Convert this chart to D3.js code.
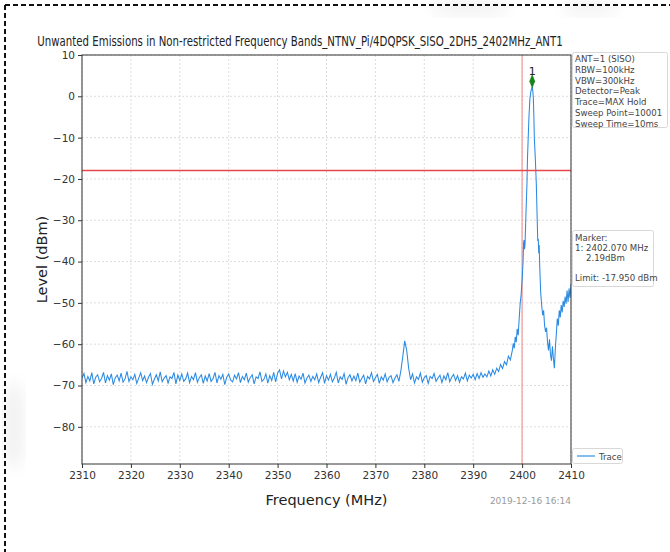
<!DOCTYPE html>
<html><head><meta charset="utf-8">
<script src="https://cdn.jsdelivr.net/npm/d3@7"></script>
<style>body{margin:0;background:#fff;}svg{display:block;font-family:"DejaVu Sans",sans-serif;}</style>
</head><body><svg id="c" width="670" height="552"></svg>
<script>
// ---- data ----
const titleText = "Unwanted Emissions in Non-restricted Frequency Bands_NTNV_Pi/4DQPSK_SISO_2DH5_2402MHz_ANT1";
const xTicks = [2310,2320,2330,2340,2350,2360,2370,2380,2390,2400,2410];
const yTicks = [10,0,-10,-20,-30,-40,-50,-60,-70,-80];
const xDomain = [2310, 2410];
const yDomain = [-89, 10];
const noiseStart = 2310, noiseStep = 0.4; // sweep segment 2310–2398 MHz
const noiseLevels = [
-68.2,-67.1,-69.3,-67.8,-68.9,-66.9,-69.6,-68.0,-67.4,-69.1,-68.3,-66.8,-69.4,-67.6,-68.7,-67.2,-69.8,-68.1,-67.5,-68.9,
-67.0,-69.2,-68.4,-66.6,-69.0,-67.9,-68.6,-67.3,-69.5,-68.2,-66.9,-68.8,-67.7,-69.3,-68.0,-67.1,-69.7,-68.5,-67.4,-68.9,
-66.7,-69.1,-68.2,-67.6,-69.4,-67.9,-68.3,-66.8,-69.6,-67.5,-68.8,-67.2,-69.0,-68.4,-67.0,-69.3,-67.8,-68.6,-66.9,-69.2,
-68.1,-67.4,-69.5,-67.7,-68.9,-67.1,-69.0,-68.3,-66.8,-69.4,-67.6,-68.5,-67.3,-69.8,-68.0,-67.2,-68.7,-69.1,-67.5,-68.4,
-66.9,-69.3,-67.8,-68.6,-67.0,-69.2,-68.1,-67.4,-69.6,-67.9,-68.3,-66.7,-69.0,-68.5,-67.2,-69.4,-67.6,-68.8,-66.8,-69.1,
-67.0,-66.2,-68.4,-66.5,-67.9,-66.8,-68.6,-67.3,-68.9,-67.1,-69.2,-67.7,-68.5,-67.0,-69.4,-68.2,-67.5,-69.0,-67.8,-68.6,
-67.2,-69.3,-68.0,-66.9,-69.5,-67.6,-68.7,-67.3,-69.1,-68.2,-66.8,-69.4,-67.9,-68.5,-67.1,-69.7,-68.1,-67.4,-68.9,-67.7,
-68.8,-67.0,-69.2,-68.3,-67.5,-69.6,-67.8,-68.4,-66.9,-69.0,-68.1,-67.3,-69.5,-67.9,-68.7,-67.2,-69.1,-68.0,-67.6,-69.3,
-68.2,-67.4,-69.0,-66.5,-63.0,-59.2,-61.5,-65.8,-68.6,-67.2,-69.4,-67.9,-68.5,-67.0,-69.2,-68.1,-67.6,-69.5,-67.8,-68.3,
-67.1,-69.0,-68.2,-67.5,-69.3,-67.7,-68.6,-66.9,-69.1,-68.0,-67.3,-68.8,-67.6,-69.2,-67.9,-68.4,-67.0,-68.9,-67.5,-68.2,
-67.3,-68.6,-67.1,-68.3,-66.9,-68.0,-67.2,-67.9,-66.5,-67.7,-66.2,-67.3,-65.8,-66.6,-64.9,-65.9,-64.2,-65.0,-62.9,-63.8
];
const bandFreqs = [2398.0,2398.2,2398.4,2398.6,2398.8,2399.0,2399.2,2399.4,2399.6,2399.8,2400.0,2400.2,2400.3,2400.4,2400.5,2400.6,2400.8,2401.0,2401.1,2401.25,2401.4,2401.6,2401.8,2402.0,2402.07,2402.2,2402.3,2402.4,2402.5,2402.7,2402.9,2403.05,2403.2,2403.3,2403.4,2403.5,2403.6,2403.8,2404.0,2404.2,2404.4,2404.6,2404.8,2405.0,2405.2,2405.4,2405.6,2405.8,2406.0,2406.2,2406.4,2406.6,2406.8,2407.0,2407.2,2407.4,2407.6,2407.8,2408.0,2408.2,2408.4,2408.6,2408.8,2409.0,2409.2,2409.4,2409.6,2409.8,2410.0];
const bandLevels = [-61.5,-59.8,-61.0,-58.2,-59.5,-56.3,-57.8,-53.9,-50.2,-48.0,-44.5,-40.0,-35.5,-34.8,-37.0,-35.8,-28.0,-21.0,-15.0,-10.0,-5.0,-0.5,1.2,2.1,2.19,1.2,-0.5,-4.5,-10.0,-15.0,-21.0,-28.0,-35.0,-34.5,-38.0,-36.0,-41.0,-47.5,-50.5,-53.0,-51.8,-55.5,-57.0,-56.0,-59.5,-61.5,-58.8,-62.5,-64.0,-60.5,-63.5,-65.8,-61.0,-57.5,-53.8,-55.5,-51.8,-53.5,-50.5,-52.3,-49.5,-51.0,-48.5,-50.2,-47.0,-49.8,-46.5,-48.8,-45.5,-47.5];
const limitLevel = -17.95;
const refFreq = 2400;
const marker = {freq: 2402.07, level: 2.19, label: "1"};
const infoLines = ["ANT=1 (SISO)","RBW=100kHz","VBW=300kHz","Detector=Peak","Trace=MAX Hold","Sweep Point=10001","Sweep Time=10ms"];
const markerLines = ["Marker:","1: 2402.070 MHz","    2.19dBm","","Limit: -17.950 dBm"];
const legendLabel = "Trace";
const dateText = "2019-12-16 16:14";

// ---- build ----
const trace = noiseLevels.map((v,i)=>({f: noiseStart + i*noiseStep, v}))
  .concat(bandFreqs.map((f,i)=>({f, v: bandLevels[i]})));

const svg = d3.select("#c");
const L=82, R=571, T=55, B=464;
const x = d3.scaleLinear().domain(xDomain).range([L,R]);
const y = d3.scaleLinear().domain(yDomain).range([B,T]);

// faint background smudges (scan artefacts)
const defs = svg.append("defs");
defs.append("filter").attr("id","blur").append("feGaussianBlur").attr("stdDeviation",7);
svg.append("ellipse").attr("cx",470).attr("cy",8).attr("rx",40).attr("ry",8).attr("fill","#f3f3f3").attr("filter","url(#blur)");
svg.append("ellipse").attr("cx",590).attr("cy",8).attr("rx",30).attr("ry",8).attr("fill","#f4f4f4").attr("filter","url(#blur)");
svg.append("ellipse").attr("cx",14).attr("cy",425).attr("rx",10).attr("ry",45).attr("fill","#f1f1f1").attr("filter","url(#blur)");

// page dashed border
svg.append("line").attr("x1",5).attr("x2",670).attr("y1",5).attr("y2",5)
  .attr("stroke","#111").attr("stroke-width",2).attr("stroke-dasharray","5,3");
svg.append("line").attr("x1",5).attr("x2",5).attr("y1",5).attr("y2",552)
  .attr("stroke","#111").attr("stroke-width",2).attr("stroke-dasharray","5,3");

// grid
const g = svg.append("g");
g.selectAll(".vg").data(xTicks).join("line").attr("x1",d=>x(d)).attr("x2",d=>x(d)).attr("y1",T).attr("y2",B)
  .attr("stroke","#d4d4d4").attr("stroke-width",0.8).attr("stroke-dasharray","2,2");
g.selectAll(".hg").data(yTicks).join("line").attr("y1",d=>y(d)).attr("y2",d=>y(d)).attr("x1",L).attr("x2",R)
  .attr("stroke","#d4d4d4").attr("stroke-width",0.8).attr("stroke-dasharray","2,2");

// ref vertical line
svg.append("line").attr("x1",x(refFreq)).attr("x2",x(refFreq)).attr("y1",T).attr("y2",B)
  .attr("stroke","#f0a0a0").attr("stroke-width",1.3);

// trace
svg.append("clipPath").attr("id","pc").append("rect").attr("x",L).attr("y",T).attr("width",R-L).attr("height",B-T);
svg.append("path").datum(trace).attr("clip-path","url(#pc)")
  .attr("d", d3.line().x(d=>x(d.f)).y(d=>y(d.v)))
  .attr("fill","none").attr("stroke","#2a8ae3").attr("stroke-width",1.05);

// limit line
svg.append("line").attr("x1",L).attr("x2",R).attr("y1",y(limitLevel)).attr("y2",y(limitLevel))
  .attr("stroke","#e8484d").attr("stroke-width",1.5);

// marker
svg.append("path").attr("d", d3.symbol().type(d3.symbolDiamond).size(40)())
  .attr("transform",`translate(${x(marker.freq)},${y(marker.level)-6}) scale(0.75,1.1)`)
  .attr("fill","#138a13").attr("stroke","#0a5a0a").attr("stroke-width",0.5);
svg.append("text").attr("x",x(marker.freq)).attr("y",y(marker.level)-12).attr("text-anchor","middle")
  .attr("font-size",11).attr("fill","#222").text(marker.label);

// axes frame
svg.append("rect").attr("x",L).attr("y",T).attr("width",R-L).attr("height",B-T)
  .attr("fill","none").attr("stroke","#333").attr("stroke-width",1);

const xa = svg.append("g").attr("transform",`translate(0,${B})`)
  .call(d3.axisBottom(x).tickValues(xTicks).tickFormat(d3.format("d")).tickSizeOuter(0).tickSize(4).tickPadding(4));
const ya = svg.append("g").attr("transform",`translate(${L},0)`)
  .call(d3.axisLeft(y).tickValues(yTicks).tickFormat(d=>d<0?"\u2212"+Math.abs(d):d).tickSizeOuter(0).tickSize(4).tickPadding(3));
[xa,ya].forEach(a=>{
  a.select(".domain").remove();
  a.selectAll("line").attr("stroke","#333");
  a.selectAll("text").attr("font-size",10.5).attr("fill","#333").attr("font-family","DejaVu Sans, sans-serif");
});

// title: taller glyphs, horizontally condensed to span ~526px
const tt = svg.append("text").attr("text-anchor","middle")
  .attr("font-size",13.5).attr("fill","#222").text(titleText);
const tw = tt.node().getComputedTextLength();
tt.attr("transform",`translate(300,46) scale(${(526/tw).toFixed(4)},1)`);

// axis labels
svg.append("text").attr("x",(L+R)/2).attr("y",505).attr("text-anchor","middle")
  .attr("font-size",14.5).attr("fill","#222").text("Frequency (MHz)");
svg.append("text").attr("transform",`translate(47,${(T+B)/2}) rotate(-90)`).attr("text-anchor","middle")
  .attr("font-size",14.5).attr("fill","#222").text("Level (dBm)");

// date
svg.append("text").attr("x",571).attr("y",504).attr("text-anchor","end")
  .attr("font-size",9).attr("fill","#9a9a9a").text(dateText);

// boxes
function box(x0,y0,w,h){
  svg.append("rect").attr("x",x0).attr("y",y0).attr("width",w).attr("height",h).attr("rx",2)
    .attr("fill","#fff").attr("stroke","#d8d8d8").attr("stroke-width",1);
}
box(572.5,52.5,95,75);
svg.append("g").selectAll("text").data(infoLines).join("text")
  .attr("x",575).attr("y",(d,i)=>62+i*10.8).attr("font-size",8.6).attr("fill","#444").text(d=>d);

box(572.5,230.5,81,56);
svg.append("g").selectAll("text").data(markerLines).join("text")
  .attr("x",575).attr("y",(d,i)=>241+i*10).attr("font-size",8.6).attr("fill","#444")
  .style("white-space","pre").text(d=>d);

box(572.5,448.5,50,15);
svg.append("line").attr("x1",577).attr("x2",595).attr("y1",456).attr("y2",456).attr("stroke","#5aa8e8").attr("stroke-width",1.5);
svg.append("text").attr("x",599).attr("y",459.5).attr("font-size",8.6).attr("fill","#444").text(legendLabel);
</script></body></html>
